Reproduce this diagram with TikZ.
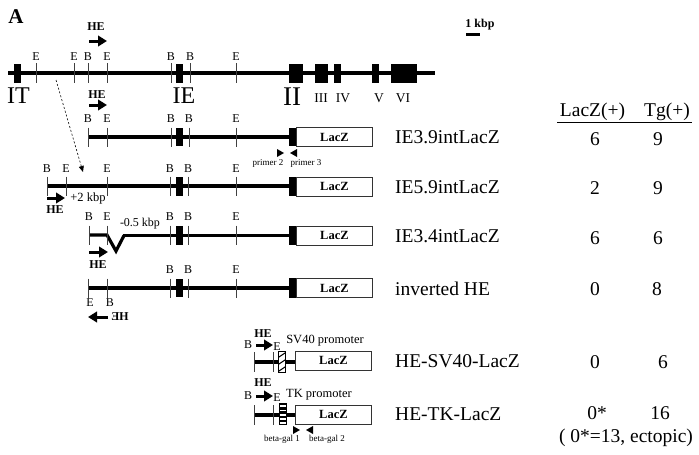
\documentclass[tikz,border=0pt]{standalone}
\usepackage{fontspec}
\setmainfont{Liberation Serif}
\usetikzlibrary{arrows.meta}
\begin{document}
\begin{tikzpicture}[x=1pt,y=-1pt,
  dnatop/.style={line width=4pt},
  dna/.style={line width=3.2pt},
  tickline/.style={line width=0.6pt, black!75},
  lbl/.style={font=\fontsize{12}{12}\selectfont, inner sep=0pt},
  small/.style={font=\fontsize{9}{9}\selectfont, inner sep=0pt},
  helbl/.style={font=\bfseries\fontsize{12}{12}\selectfont, inner sep=0pt},
  hearrow/.style={-{Triangle[length=9pt,width=10.5pt]}, line width=3pt},
  laczbox/.style={draw=black!80, line width=0.8pt, fill=white, inner sep=0pt,
     minimum width=76pt, minimum height=19pt, anchor=west,
     font=\bfseries\fontsize{12.5}{12}\selectfont},
  cname/.style={font=\fontsize{19.5}{20}\selectfont, anchor=west, inner sep=0pt},
  num/.style={font=\fontsize{19.5}{20}\selectfont, inner sep=0pt},
  bigex/.style={font=\fontsize{24}{24}\selectfont, inner sep=0pt},
  smex/.style={font=\fontsize{13.5}{14}\selectfont, inner sep=0pt},
]
\useasboundingbox (0,0) rectangle (699,455);
\newcommand\sitetick[4]{% x, y, label, dy of label
  \draw[tickline] (#1,{#2-9.5}) -- (#1,{#2+9.5});
  \node[lbl] at (#1,{#2+#4}) {#3};}

% ---- panel letter and scale
\node[font=\bfseries\fontsize{21}{21}\selectfont, inner sep=0pt] (pA) at (16,17) {A};
\node[font=\bfseries\fontsize{12}{12}\selectfont, inner sep=0pt] (kbp) at (480,25) {1 kbp};
\draw[line width=3pt] (466,34) -- (480,34);

% ---- top genomic map
\coordinate (t0) at (8,73);
\coordinate (t1) at (435,73);
\draw[dnatop] (t0) -- (t1);
\foreach \x/\l in {36/E,74/E,88/B,107/E,171/B,190/B,236/E}{
  \draw[tickline] (\x,63) -- (\x,83);
  \node[lbl] at (\x,57) {\l};}
\foreach \a/\b in {14/21,176/183,289/303,315/328,334/341,372/379,391/417}{
  \fill (\a,64) rectangle (\b,83);}
\node[bigex] (IT) at (18.5,96) {IT};
\node[bigex] (IE) at (184,96) {IE};
\node[font=\fontsize{27}{27}\selectfont, inner sep=0pt] (II) at (292,97) {II};
\node[smex] (III) at (321,98) {III};
\node[smex] (IV) at (343,98) {IV};
\node[smex] (V) at (379,98) {V};
\node[smex] (VI) at (403,98) {VI};
\node[helbl] (he0) at (96,27) {HE};
\draw[hearrow] (89,41) -- (107,41);

% ---- row 1 : IE3.9intLacZ
\node[helbl] (he1) at (97,95) {HE};
\draw[hearrow] (89,105) -- (107,105);
\draw[dna] (88,137) -- (289,137);
\foreach \x/\l in {88/B,107/E,171/B,189/B,236/E}{\sitetick{\x}{137}{\l}{-18}}
\fill (176,128) rectangle (183,146);
\fill (289,128) rectangle (296,146);
\node[laczbox] (lz1) at (296,137) {LacZ};
\fill (277,149) -- (284,153) -- (277,157) -- cycle;
\fill (297,149) -- (290,153) -- (297,157) -- cycle;
\node[small] (p2) at (268,163) {primer 2};
\node[small] (p3) at (306,163) {primer 3};
\node[cname] (n1) at (395,137) {IE3.9intLacZ};

% ---- row 2 : IE5.9intLacZ
\draw[dna] (47,186) -- (289,186);
\foreach \x/\l in {47/B,66/E,107/E,170/B,188/B,236/E}{\sitetick{\x}{186}{\l}{-17}}
\fill (176,177) rectangle (183,196);
\fill (289,177) rectangle (296,196);
\node[laczbox] (lz2) at (296,186.5) {LacZ};
\draw[hearrow] (47,198) -- (65,198);
\node[helbl] (he2) at (55,210) {HE};
\node[font=\fontsize{12.5}{12}\selectfont, inner sep=0pt] (plus2) at (88,198) {+2 kbp};
\node[cname] (n2) at (395,187) {IE5.9intLacZ};
\coordinate (dstart) at (56,80);
\coordinate (dend) at (83,172);
\draw[line width=0.6pt, dash pattern=on 2pt off 2pt, -{Triangle[length=6pt,width=5pt]}] (dstart) -- (dend);

% ---- row 3 : IE3.4intLacZ
\draw[dna, line join=miter] (89,235) -- (107,235) -- (116,251) -- (124,235.5);
\draw[dna] (123,235.5) -- (289,235.5);
\foreach \x/\l in {89/B,107/E,170/B,188/B,236/E}{\sitetick{\x}{235}{\l}{-18}}
\fill (176,226) rectangle (183,245);
\fill (289,226) rectangle (296,245);
\node[laczbox] (lz3) at (296,235.5) {LacZ};
\node[font=\fontsize{12}{12}\selectfont, inner sep=0pt] (del) at (140,224) {-0.5 kbp};
\draw[hearrow] (89,252) -- (108,252);
\node[helbl] (he3) at (98,265) {HE};
\node[cname] (n3) at (395,236) {IE3.4intLacZ};

% ---- row 4 : inverted HE
\draw[dna] (88,288) -- (289,288);
\draw[tickline] (88,278.5) -- (88,297.5);
\draw[tickline] (107,278.5) -- (107,297.5);
\node[lbl] at (90,303) {E};
\node[lbl] at (110,303) {B};
\foreach \x/\l in {170/B,188/B,236/E}{\sitetick{\x}{288}{\l}{-18}}
\fill (176,279) rectangle (183,297);
\fill (289,278) rectangle (296,298);
\node[laczbox] (lz4) at (296,288) {LacZ};
\draw[hearrow] (108,317) -- (88,317);
\node[helbl, xscale=-1, transform shape] (he4) at (120,317) {HE};
\node[cname] (n4) at (395,289) {inverted HE};

% ---- row 5 : HE-SV40-LacZ
\draw[dna] (254,362) -- (295,362);
\draw[tickline] (254,352) -- (254,372);
\draw[tickline] (273,352) -- (273,372);
\node[lbl] at (248,345) {B};
\node[lbl] at (277,347) {E};
\draw[hearrow] (256,345) -- (273,345);
\node[helbl] (he5) at (263,334) {HE};
\begin{scope}
  \clip (278.5,351) rectangle (285.5,372);
  \fill[white] (278.5,351) rectangle (285.5,372);
  \foreach \k in {-2,...,5}{\draw[line width=1pt] (276,{351+7*\k+8}) -- (288,{351+7*\k});}
\end{scope}
\draw[line width=0.7pt] (278.5,351) rectangle (285.5,372);
\node[laczbox] (lz5) at (295,360.5) {LacZ};
\node[font=\fontsize{12.5}{12}\selectfont, inner sep=0pt] (sv) at (325,341) {SV40 promoter};
\node[cname] (n5) at (395,361) {HE-SV40-LacZ};

% ---- row 6 : HE-TK-LacZ
\draw[dna] (254,415) -- (295,415);
\draw[tickline] (254,405) -- (254,425);
\draw[tickline] (273,405) -- (273,425);
\node[lbl] at (248,396) {B};
\node[lbl] at (277,398) {E};
\draw[hearrow] (256,396) -- (273,396);
\node[helbl] (he6) at (263,383) {HE};
\fill[white] (279,403) rectangle (286,424);
\foreach \k in {0,...,4}{\fill (279,{403+4.2*\k}) rectangle (286,{403+4.2*\k+2.4});}
\draw[line width=0.6pt] (279,403) rectangle (286,424);
\node[laczbox] (lz6) at (295,414.5) {LacZ};
\node[font=\fontsize{12.5}{12}\selectfont, inner sep=0pt] (tk) at (319,395) {TK promoter};
\fill (293,426) -- (300,430) -- (293,434) -- cycle;
\fill (313,426) -- (306,430) -- (313,434) -- cycle;
\node[small] (bg1) at (282,439) {beta-gal 1};
\node[small] (bg2) at (327,439) {beta-gal 2};
\node[cname] (n6) at (395,414) {HE-TK-LacZ};

% ---- table
\node[num] (hL) at (592.5,112) {LacZ(+)};
\node[num] (hT) at (667,112) {Tg(+)};
\draw[line width=0.8pt] (557,122) -- (692,122);
\node[num] (a1) at (595,139) {6};  \node[num] (b1) at (658,139) {9};
\node[num] (a2) at (595,188) {2};  \node[num] (b2) at (658,188) {9};
\node[num] (a3) at (595,238) {6};  \node[num] (b3) at (658,238) {6};
\node[num] (a4) at (595,289) {0};  \node[num] (b4) at (657,289) {8};
\node[num] (a5) at (595,362) {0};  \node[num] (b5) at (663,362) {6};
\node[num] (a6) at (597,413) {0*}; \node[num] (b6) at (660,413) {16};
\node[num] (note) at (626,438) {( 0*=13, ectopic)};
\end{tikzpicture}
\end{document}
